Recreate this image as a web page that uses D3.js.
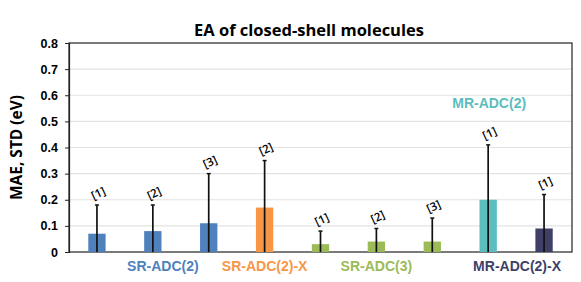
<!DOCTYPE html>
<html lang="en">
<head>
  <meta charset="UTF-8">
  <title>EA of closed-shell molecules</title>
  <script src="https://d3js.org/d3.v7.min.js"></script>
  <style>
    body { margin: 0; background: white; }
    svg { display: block; font-family: "Open Sans", "DejaVu Sans", sans-serif; }
    .tick text { font-size: 12.5px; font-weight: bold; fill: #000; }
    .grp { font-family: "Liberation Sans", Arial, sans-serif; font-size: 14px; font-weight: bold; }
    .ref { font-family: "Open Sans", sans-serif; font-size: 11.5px; font-weight: 600; }
  </style>
</head>
<body>
<svg width="581" height="282"></svg>
<script>
  // one entry per bar
  const bars = ["b1", "b2", "b3", "b4", "b5", "b6", "b7", "b8", "b9"];
  const mae = [0.07, 0.08, 0.11, 0.17, 0.03, 0.04, 0.04, 0.20, 0.09];
  const upper = [0.18, 0.18, 0.30, 0.35, 0.08, 0.09, 0.13, 0.41, 0.22];
  const refs = ["[1]", "[2]", "[3]", "[2]", "[1]", "[2]", "[3]", "[1]", "[1]"];
  const barGroup = [0, 0, 0, 1, 2, 2, 2, 3, 4];

  const groups = ["SR-ADC(2)", "SR-ADC(2)-X", "SR-ADC(3)", "MR-ADC(2)", "MR-ADC(2)-X"];
  const groupColors = ["#4F81BD", "#F79646", "#9BBB59", "#5BBDBD", "#403F68"];
  const yTicks = [0, 0.1, 0.2, 0.3, 0.4, 0.5, 0.6, 0.7, 0.8];

  const svg = d3.select("svg"),
        margin = {top: 43, right: 9, bottom: 30, left: 69},
        width = 581 - margin.left - margin.right,
        height = 282 - margin.top - margin.bottom;

  const chart = svg.append("g")
      .attr("transform", `translate(${margin.left},${margin.top})`);

  const x = d3.scaleBand().domain(bars).range([0, width])
      .paddingInner(0.69).paddingOuter(0.345);
  const y = d3.scaleLinear().domain([0, 0.8]).range([height, 0]);
  const cx = i => x(bars[i]) + x.bandwidth() / 2;

  // grid lines
  chart.append("g")
      .selectAll("line")
      .data(yTicks.slice(1, -1))
      .join("line")
      .attr("x1", 0).attr("x2", width)
      .attr("y1", d => y(d)).attr("y2", d => y(d))
      .attr("stroke", "#e3e3e3")
      .attr("stroke-width", 1.2);

  // plot border
  chart.append("rect")
      .attr("width", width).attr("height", height)
      .attr("fill", "none").attr("stroke", "#222").attr("stroke-width", 1.2);

  // bars
  chart.selectAll(".bar")
      .data(bars)
      .join("rect")
      .attr("class", "bar")
      .attr("x", d => x(d))
      .attr("y", (d, i) => y(mae[i]))
      .attr("width", x.bandwidth())
      .attr("height", (d, i) => height - y(mae[i]))
      .attr("fill", (d, i) => groupColors[barGroup[i]]);

  // error bars
  const err = chart.append("g").selectAll("g").data(bars).join("g");
  err.append("line")
      .attr("x1", (d, i) => cx(i)).attr("x2", (d, i) => cx(i))
      .attr("y1", height).attr("y2", (d, i) => y(upper[i]))
      .attr("stroke", "#111").attr("stroke-width", 1.7);
  err.append("line")
      .attr("x1", (d, i) => cx(i) - 2).attr("x2", (d, i) => cx(i) + 2)
      .attr("y1", (d, i) => y(upper[i])).attr("y2", (d, i) => y(upper[i]))
      .attr("stroke", "#111").attr("stroke-width", 1.5);

  // reference labels
  chart.append("g").selectAll("text").data(bars).join("text")
      .attr("class", "ref")
      .attr("transform", (d, i) => `translate(${cx(i) + 3},${y(upper[i]) - 8}) rotate(-25)`)
      .attr("text-anchor", "middle")
      .text((d, i) => refs[i]);

  // y axis
  chart.append("g")
      .call(d3.axisLeft(y).tickValues(yTicks).tickSize(4).tickPadding(7)
        .tickFormat(d => d === 0 ? "0" : d3.format(".1f")(d)))
      .call(g => g.select(".domain").attr("stroke", "#222").attr("stroke-width", 1.2))
      .call(g => g.selectAll(".tick line").attr("stroke", "#222"));

  // group labels
  const groupPos = [
    {x: cx(1) + 10, y: height + 19},
    {x: cx(3), y: height + 19},
    {x: cx(5), y: height + 19},
    {x: cx(7) + 1, y: y(0.55)},
    {x: cx(8) - 27, y: height + 19}
  ];
  chart.append("g").selectAll("text").data(groups).join("text")
      .attr("class", "grp")
      .attr("x", (d, i) => groupPos[i].x)
      .attr("y", (d, i) => groupPos[i].y)
      .attr("text-anchor", "middle")
      .attr("fill", (d, i) => groupColors[i])
      .text(d => d);

  // title
  svg.append("text")
      .attr("x", 309).attr("y", 36)
      .attr("text-anchor", "middle")
      .style("font-size", "16.5px").style("font-weight", "bold")
      .text("EA of closed-shell molecules");

  // y axis title
  svg.append("text")
      .attr("transform", `translate(22,${margin.top + height / 2}) rotate(-90)`)
      .attr("text-anchor", "middle")
      .style("font-size", "15.5px").style("font-weight", "bold")
      .text("MAE, STD (eV)");
</script>
</body>
</html>
